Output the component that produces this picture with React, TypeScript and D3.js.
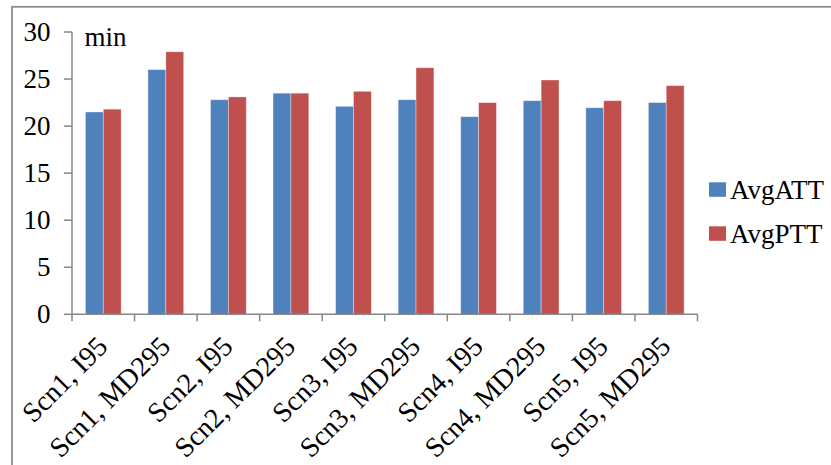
import React from "react";
import * as d3 from "d3";

const categories = [
  "Scn1, I95", "Scn1, MD295", "Scn2, I95", "Scn2, MD295", "Scn3, I95",
  "Scn3, MD295", "Scn4, I95", "Scn4, MD295", "Scn5, I95", "Scn5, MD295",
];
const avgATT = [21.5, 26.0, 22.8, 23.5, 22.1, 22.8, 21.0, 22.7, 21.95, 22.5];
const avgPTT = [21.8, 27.9, 23.1, 23.5, 23.7, 26.2, 22.5, 24.9, 22.7, 24.3];
const seriesNames = ["AvgATT", "AvgPTT"];
const seriesColors = ["#4F81BD", "#C0504D"];
const yTicks = [0, 5, 10, 15, 20, 25, 30];

const W = 831;
const H = 465;
const FONT = "'Liberation Serif', 'Times New Roman', serif";
const AXIS = "#868686";

export default function App() {
  const x0 = d3.scaleBand<string>().domain(categories).range([72, 697.5]).paddingInner(0).paddingOuter(0);
  const bw = x0.bandwidth();
  const barW = bw / 3.5;
  const y = d3.scaleLinear().domain([0, 30]).range([314.3, 32]);
  const series = [avgATT, avgPTT];

  return (
    <svg width={W} height={H} style={{ position: "absolute", left: 0, top: 0, background: "#fff" }}>
      {/* outer chart border (cropped on right/bottom) */}
      <rect x={12} y={6.8} width={W + 20} height={H + 20} fill="none" stroke="#8c8c8c" strokeWidth={1.8} />

      {/* bars */}
      {series.map((vals, si) =>
        vals.map((v, i) => {
          const gx = (x0(categories[i]) as number) + (bw - 2 * barW) / 2 + si * barW;
          return (
            <rect
              key={`${si}-${i}`}
              x={gx}
              y={y(v)}
              width={barW}
              height={y(0) - y(v)}
              fill={seriesColors[si]}
              stroke="rgba(255,255,255,0.45)"
              strokeWidth={0.8}
            />
          );
        })
      )}

      {/* y axis */}
      <line x1={72} x2={72} y1={y(30)} y2={y(0)} stroke={AXIS} strokeWidth={1.5} />
      {yTicks.map((t) => (
        <g key={t}>
          <line x1={64} x2={72} y1={y(t)} y2={y(t)} stroke={AXIS} strokeWidth={1.5} />
          <text
            x={50.5}
            y={y(t)}
            dy="0.34em"
            textAnchor="end"
            fontFamily={FONT}
            fontSize={27}
            fill="#000"
          >
            {t}
          </text>
        </g>
      ))}
      <text x={84.5} y={46} fontFamily={FONT} fontSize={27} fill="#000">
        min
      </text>

      {/* x axis */}
      <line x1={72} x2={697.5} y1={y(0)} y2={y(0)} stroke={AXIS} strokeWidth={1.5} />
      {d3.range(categories.length + 1).map((i) => {
        const tx = 72 + i * bw;
        return <line key={i} x1={tx} x2={tx} y1={y(0)} y2={y(0) + 7} stroke={AXIS} strokeWidth={1.5} />;
      })}
      {categories.map((c) => {
        const cx = (x0(c) as number) + bw / 2;
        return (
          <text
            key={c}
            transform={`translate(${cx + 6},348) rotate(-45)`}
            textAnchor="end"
            fontFamily={FONT}
            fontSize={28}
            fill="#000"
          >
            {c}
          </text>
        );
      })}

      {/* legend */}
      {seriesNames.map((n, i) => (
        <g key={n}>
          <rect x={709} y={182.3 + i * 44} width={17} height={14.5} fill={seriesColors[i]} />
          <text x={730} y={199.3 + i * 43.5} fontFamily={FONT} fontSize={27} fill="#000">
            {n}
          </text>
        </g>
      ))}
    </svg>
  );
}
